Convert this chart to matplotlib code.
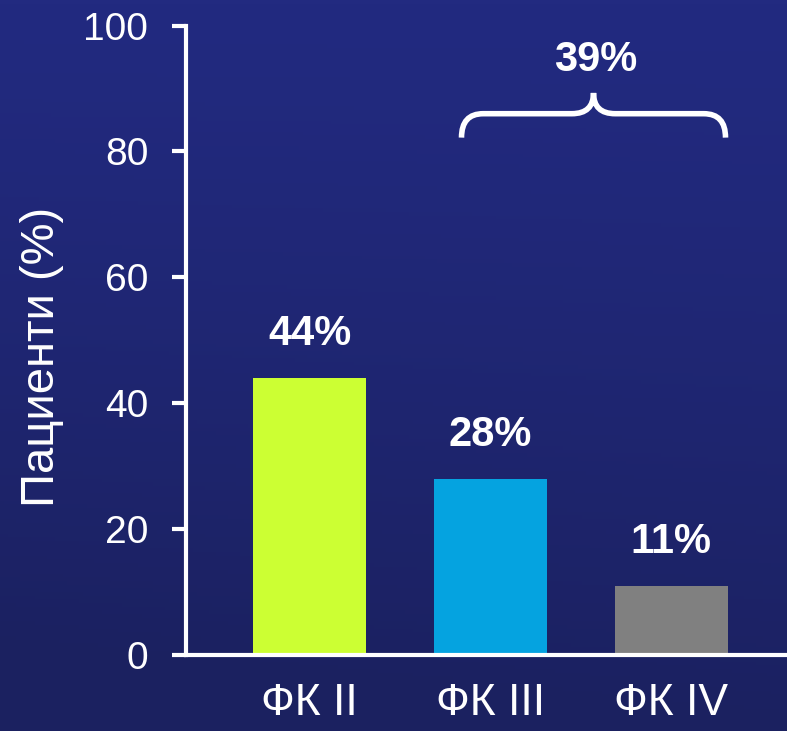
import matplotlib.pyplot as plt
import numpy as np
from matplotlib.path import Path
from matplotlib.patches import PathPatch

plt.rcParams['font.family'] = ['Liberation Sans', 'DejaVu Sans']

# data
classes = ['ФК II', 'ФК III', 'ФК IV']
patients = [44, 28, 11]
labels = ['44%', '28%', '11%']
bar_colors = ['#CCFF33', '#05A3E0', '#808080']
group_label = '39%'

fig = plt.figure(figsize=(7.87, 7.31), dpi=100)

# background gradient (lighter navy at the top, darker toward bottom left)
bg = fig.add_axes([0, 0, 1, 1], zorder=-1)
yy, xx = np.mgrid[0:1:200j, 0:1:200j]
top = np.array([34, 42, 128]) / 255
bottom = np.array([27, 33, 96]) / 255
t = np.clip(yy ** 1.3 + 0.15 * (1 - xx) * yy, 0, 1)[..., None]
img = top * (1 - t) + bottom * t
bg.imshow(img, aspect='auto', extent=[0, 1, 0, 1], origin='upper')
bg.axis('off')

ax = fig.add_axes([0.236, 0.104, 0.764, 0.861])
ax.patch.set_alpha(0)

x = np.arange(len(classes))
ax.bar(x, patients, width=0.625, color=bar_colors, zorder=2)

for xi, val, lab in zip(x, patients, labels):
    ax.text(xi, val + 3.8, lab, ha='center', va='bottom', color='white',
            fontsize=30, fontweight='bold')

# curly brace over ФК III + ФК IV
x0, x1 = 0.84, 2.30
xm = (x0 + x1) / 2
yb, yh, yt = 82.2, 86.0, 89.3
r = 0.12
verts = [
    (x0, yb), (x0, yh), (x0 + r, yh),
    (xm - r, yh), (xm, yh), (xm, yt),
    (xm, yh), (xm + r, yh),
    (x1 - r, yh), (x1, yh), (x1, yb),
]
codes = [
    Path.MOVETO, Path.CURVE3, Path.CURVE3,
    Path.LINETO, Path.CURVE3, Path.CURVE3,
    Path.CURVE3, Path.CURVE3,
    Path.LINETO, Path.CURVE3, Path.CURVE3,
]
ax.add_patch(PathPatch(Path(verts, codes), facecolor='none',
                       edgecolor='white', lw=4, capstyle='butt'))
ax.text(xm + 0.01, 94.5, group_label, ha='center', va='center', color='white',
        fontsize=30, fontweight='bold')

ax.set_xlim(-0.685, 2.64)
ax.set_ylim(0, 100)
ax.set_yticks([0, 20, 40, 60, 80, 100])
ax.set_xticks(x)
ax.set_xticklabels(classes)

for side in ['top', 'right']:
    ax.spines[side].set_visible(False)
for side in ['left', 'bottom']:
    ax.spines[side].set_color('white')
    ax.spines[side].set_linewidth(3)

ax.tick_params(axis='y', colors='white', labelsize=28, length=10,
               width=3, pad=17)
ax.tick_params(axis='x', colors='white', labelsize=32, length=0, pad=20)
ax.set_ylabel('Пациенти (%)', color='white', fontsize=34)
ax.yaxis.set_label_coords(-0.203, 0.473)

fig.savefig('out.png', dpi=100)
